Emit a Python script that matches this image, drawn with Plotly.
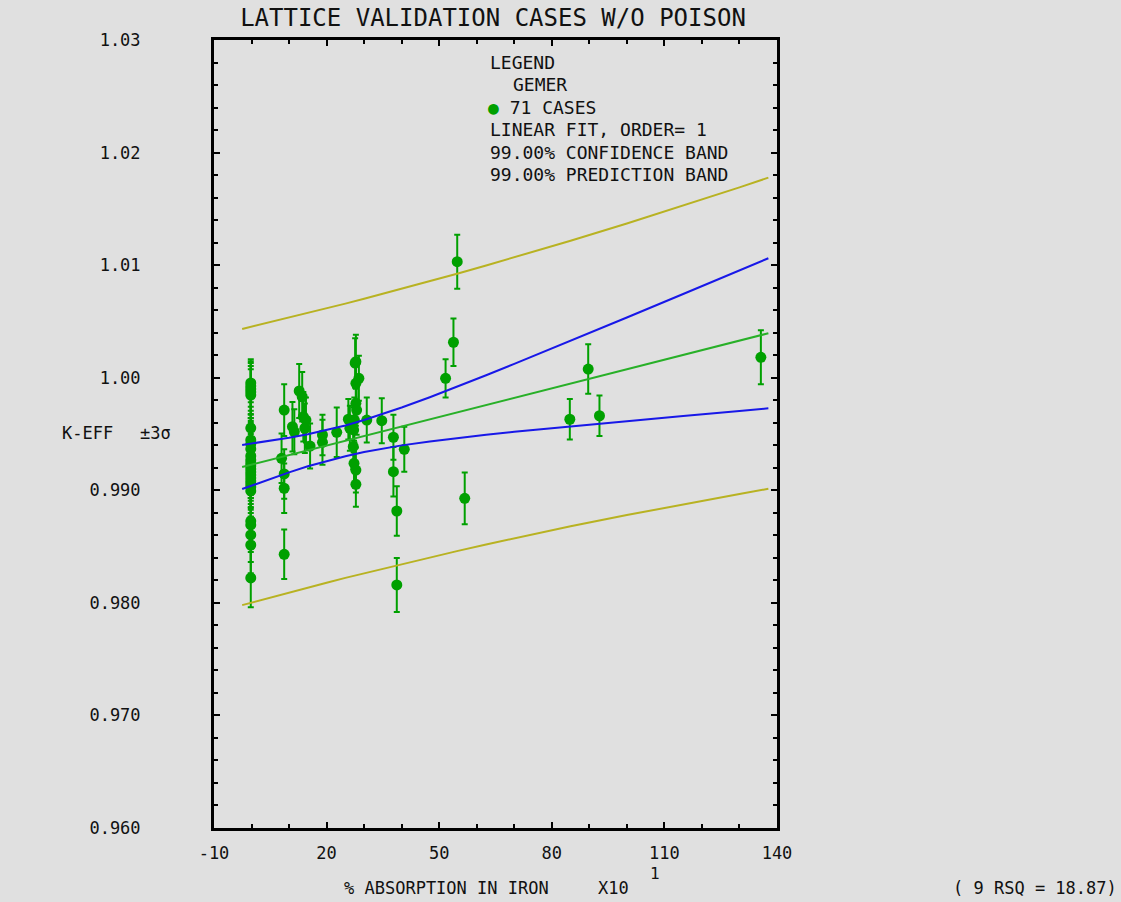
import plotly.graph_objects as go

# ---------------- data ----------------
col_x = -0.2
col_keff = [0.99953, 0.99926, 0.99900, 0.99873, 0.99846, 0.99553, 0.99447, 0.99411,
            0.99367, 0.99305, 0.99269, 0.99242, 0.99216, 0.99189, 0.99162, 0.99136,
            0.99109, 0.99082, 0.99056, 0.99029, 0.98994, 0.98727, 0.98692, 0.98603,
            0.98514, 0.98221]
col_sig3 = [0.0021, 0.0022, 0.0023, 0.0023, 0.0023, 0.0023, 0.0023, 0.0023,
            0.0023, 0.0023, 0.0023, 0.0023, 0.0023, 0.0023, 0.0023, 0.0023,
            0.0023, 0.0023, 0.0023, 0.0023, 0.0023, 0.0024, 0.0024, 0.0024,
            0.0025, 0.0026]

other_x = [8.7, 8.0, 8.7, 8.7, 8.7, 10.9, 11.4, 12.7, 13.5, 13.8, 14.5, 14.2, 15.6,
           18.9, 18.9, 22.7, 25.8, 26.2, 27.8, 27.6, 28.6, 27.8, 27.8, 28.0, 27.4,
           27.2, 27.1, 27.3, 27.8, 27.8, 30.7, 34.7, 37.8, 37.8, 38.7, 40.7, 38.7,
           51.7, 53.8, 54.8, 56.8, 84.8, 89.7, 92.7, 135.7]
other_keff = [0.99713, 0.99284, 0.99145, 0.99018, 0.98431, 0.99565, 0.99520, 0.99882,
              0.99831, 0.99654, 0.99624, 0.99551, 0.99393, 0.99426, 0.99491, 0.99515,
              0.99631, 0.99551, 1.00142, 1.00130, 0.99995, 0.99950, 0.99773, 0.99713,
              0.99624, 0.99536, 0.99387, 0.99240, 0.99180, 0.99053, 0.99624, 0.99618,
              0.99471, 0.99165, 0.98816, 0.99364, 0.98159, 0.99995, 1.00315, 1.01031,
              0.98929, 0.99631, 1.00077, 0.99662, 1.00181]
other_sig3 = [0.0023, 0.0022, 0.0022, 0.0022, 0.0022, 0.0022, 0.0020, 0.0024,
              0.0022, 0.0022, 0.0020, 0.0022, 0.0020, 0.0020, 0.0018, 0.0022,
              0.0018, 0.0020, 0.0024, 0.0022, 0.0020, 0.0022, 0.0020, 0.0022,
              0.0020, 0.0020, 0.0020, 0.0020, 0.0020, 0.0020, 0.0020, 0.0020,
              0.0020, 0.0022, 0.0022, 0.0020, 0.0024, 0.0017, 0.0021, 0.0024,
              0.0023, 0.0018, 0.0022, 0.0018, 0.0024]

fit_x = [-2.5, 137.7]
fit_y = [0.99207, 1.00395]

band_x = [-2.5, 5, 10, 15, 20, 25, 30, 35, 40, 47.5, 55, 62.5, 70, 85, 100, 115, 130, 137.7]
conf_upper = [0.99403, 0.99439, 0.99466, 0.99498, 0.99534, 0.99576, 0.99625, 0.99678,
              0.99735, 0.99827, 0.99923, 1.00022, 1.00123, 1.00327, 1.00535, 1.00744,
              1.00953, 1.01061]
conf_lower = [0.99011, 0.99102, 0.99159, 0.99213, 0.99261, 0.99303, 0.99340, 0.99371,
              0.99399, 0.99434, 0.99465, 0.99493, 0.99520, 0.99569, 0.99616, 0.99661,
              0.99705, 0.99728]
pred_upper = [1.00433, 1.00493, 1.00533, 1.00574, 1.00616, 1.00658, 1.00701, 1.00745,
              1.00789, 1.00857, 1.00926, 1.00997, 1.01069, 1.01217, 1.01370, 1.01528,
              1.01691, 1.01777]
pred_lower = [0.97980, 0.98048, 0.98093, 0.98136, 0.98179, 0.98222, 0.98263, 0.98304,
              0.98345, 0.98404, 0.98462, 0.98519, 0.98574, 0.98680, 0.98780, 0.98876,
              0.98967, 0.99013]

x_ticks = [-10, 20, 50, 80, 110, 140]
y_ticks = [0.96, 0.97, 0.98, 0.99, 1.00, 1.01, 1.02, 1.03]
y_ticktext = ["0.960", "0.970", "0.980", "0.990", "1.00", "1.01", "1.02", "1.03"]

# ---------------- figure ----------------
FONT = "DejaVu Sans Mono"
BG = "#e0e0e0"
INK = "#111111"
PT_GREEN = "rgb(0,160,0)"
FIT_GREEN = "rgb(40,176,40)"
BLUE = "rgb(24,24,232)"
YELLOW = "rgb(184,178,34)"

cases_x = [col_x] * len(col_keff) + other_x
cases_y = col_keff + other_keff
cases_e = col_sig3 + other_sig3

fig = go.Figure()
fig.add_trace(go.Scatter(
    x=cases_x, y=cases_y, mode="markers",
    marker=dict(color=PT_GREEN, size=11),
    error_y=dict(type="data", array=cases_e, color=PT_GREEN, thickness=2, width=3),
    showlegend=False, name="71 CASES"))
fig.add_trace(go.Scatter(x=fit_x, y=fit_y, mode="lines",
                         line=dict(color=FIT_GREEN, width=2), showlegend=False))
for yy in (conf_upper, conf_lower):
    fig.add_trace(go.Scatter(x=band_x, y=yy, mode="lines",
                             line=dict(color=BLUE, width=2), showlegend=False))
for yy in (pred_upper, pred_lower):
    fig.add_trace(go.Scatter(x=band_x, y=yy, mode="lines",
                             line=dict(color=YELLOW, width=2), showlegend=False))

L, R, T, B = 214, 777, 40, 828
W, H = 1121, 902


def px(xp):
    return (xp - L) / (R - L)


def py(yp):
    return (B - yp) / (B - T)


fig.update_layout(
    width=W, height=H,
    margin=dict(l=L, r=W - R, t=T, b=H - B),
    paper_bgcolor=BG, plot_bgcolor=BG,
    font=dict(family=FONT, color=INK, size=16),
    title=dict(text="LATTICE VALIDATION CASES W/O POISON", x=493 / W, xanchor="center",
               y=1 - 18 / H, yanchor="middle",
               font=dict(family=FONT, size=24, color=INK)),
)
fig.update_xaxes(
    range=[-10, 140], tickvals=x_ticks, ticktext=[str(v) for v in x_ticks],
    showgrid=False, zeroline=False, showline=True, linewidth=3, linecolor="black",
    mirror="ticks", ticks="inside", ticklen=6, tickwidth=2, tickcolor="black",
    minor=dict(dtick=10, ticks="inside", ticklen=4, tickwidth=2, tickcolor="black",
               showgrid=False),
    ticklabelstandoff=8, tickfont=dict(family=FONT, size=17, color=INK),
)
fig.update_yaxes(
    range=[0.96, 1.03], tickvals=y_ticks, ticktext=y_ticktext,
    showgrid=False, zeroline=False, showline=True, linewidth=3, linecolor="black",
    mirror="ticks", ticks="inside", ticklen=6, tickwidth=2, tickcolor="black",
    minor=dict(dtick=0.002, ticks="inside", ticklen=4, tickwidth=2, tickcolor="black",
               showgrid=False),
    ticklabelstandoff=67, tickfont=dict(family=FONT, size=17, color=INK),
)


def add_text(text, xp, yp, anchor="left", size=18):
    fig.add_annotation(text=text, x=px(xp), y=py(yp), xref="paper", yref="paper",
                       xanchor=anchor, yanchor="middle", showarrow=False,
                       font=dict(family=FONT, size=size, color=INK))


# legend block
add_text("LEGEND", 488, 62)
add_text("GEMER", 511, 85)
add_text("<span style='color:rgb(0,160,0)'>●</span> 71 CASES", 486, 107)
add_text("LINEAR FIT, ORDER= 1", 488, 130)
add_text("99.00% CONFIDENCE BAND", 488, 152)
add_text("99.00% PREDICTION BAND", 488, 174)

# axis titles
add_text("K-EFF", 60, 433, size=17)
add_text("±3σ", 138, 433, size=17)
add_text("% ABSORPTION IN IRON", 342, 888, size=17)
add_text("X10", 596, 888, size=17)
add_text("1", 655, 873, anchor="center", size=16)
add_text("( 9 RSQ = 18.87)", 1119, 888, anchor="right", size=17)

fig.write_html("out.html")
